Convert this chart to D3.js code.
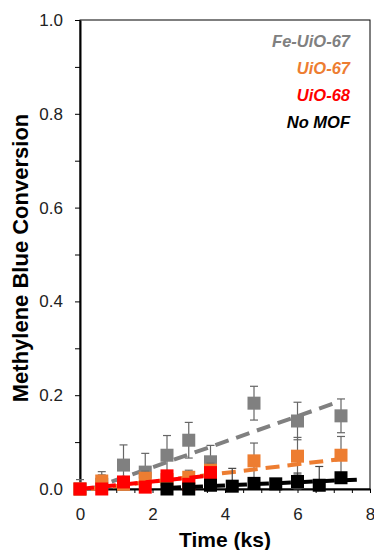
<!DOCTYPE html>
<html>
<head>
<meta charset="utf-8">
<script src="https://cdn.jsdelivr.net/npm/d3@7"></script>
<style>
  body { margin: 0; background: #fff; }
  svg text { font-family: Arial, "Liberation Sans", sans-serif; }
</style>
</head>
<body>
<div id="chart"></div>
<script>
// time points (ks) and conversions
const grayTime = [0, 0.6, 1.2, 1.8, 2.4, 3.0, 3.6, 4.8, 6.0, 7.2];
const grayVals = [0.0, 0.01, 0.051, 0.036, 0.072, 0.104, 0.058, 0.183, 0.145, 0.156];
const grayErr  = [0.02, 0.02, 0.043, 0.04, 0.042, 0.038, 0.035, 0.036, 0.04, 0.036];

const orangeTime = [0, 0.6, 1.2, 1.8, 2.4, 3.0, 3.6, 4.8, 6.0, 7.2];
const orangeVals = [0.0, 0.017, 0.01, 0.023, 0.02, 0.025, 0.04, 0.06, 0.07, 0.072];
const orangeErr  = [0.005, 0.02, 0.01, 0.015, 0.01, 0.015, 0.015, 0.038, 0.04, 0.04];

const redTime = [0, 0.6, 1.2, 1.8, 2.4, 3.0, 3.6];
const redVals = [0.0, 0.0, 0.015, 0.004, 0.028, 0.01, 0.035];
const redErr  = [0.005, 0.005, 0.008, 0.005, 0.01, 0.008, 0.01];

const blackTime = [2.4, 3.0, 3.6, 4.2, 4.8, 5.4, 6.0, 6.6, 7.2];
const blackVals = [0.0, 0.0, 0.008, 0.006, 0.012, 0.011, 0.016, 0.008, 0.024];
const blackErr  = [0.005, 0.005, 0.008, 0.038, 0.01, 0.01, 0.018, 0.04, 0.01];

// linear fits: [slope, intercept, tStart, tEnd]
const grayFit   = [0.0272, -0.008, 0.3, 7.1];
const orangeFit = [0.0093, -0.003, 0.3, 7.1];
const redFit    = [0.008, 0.0, 0.0, 3.6];
const blackFit  = [0.0034, -0.006, 2.4, 7.8];

const legendLabels = ["Fe-UiO-67", "UiO-67", "UiO-68", "No MOF"];
const yTickLabels = [0, 0.2, 0.4, 0.6, 0.8, 1.0];
const xTickLabels = [0, 2, 4, 6, 8];

const width = 374, height = 550;
const margin = { top: 20, right: 4, bottom: 61, left: 80 };
const w = width - margin.left - margin.right;
const h = height - margin.top - margin.bottom;

const svg = d3.select("#chart").append("svg")
    .attr("width", width)
    .attr("height", height);

const g = svg.append("g")
    .attr("transform", `translate(${margin.left},${margin.top})`);

const x = d3.scaleLinear().domain([0, 8]).range([0, w]);
const y = d3.scaleLinear().domain([0, 1]).range([h, 0]);

// frame
g.append("rect")
    .attr("width", w).attr("height", h)
    .attr("fill", "none").attr("stroke", "#000").attr("stroke-width", 1);

// y axis
const yAxis = d3.axisLeft(y)
    .tickValues(d3.range(0, 1.0001, 0.1))
    .tickSize(5)
    .tickSizeOuter(0)
    .tickFormat(d => yTickLabels.some(v => Math.abs(v - d) < 1e-6) ? d3.format(".1f")(d) : "");
const ya = g.append("g").call(yAxis);
ya.select(".domain").attr("stroke-width", 2);
ya.selectAll("text").attr("font-size", 17).attr("fill", "#222").attr("x", -17);

// x axis
const xAxis = d3.axisBottom(x)
    .tickValues(d3.range(0, 8.0001, 0.5))
    .tickSize(4)
    .tickSizeOuter(0)
    .tickFormat(d => xTickLabels.includes(d) ? d : "");
const xa = g.append("g").attr("transform", `translate(0,${h})`).call(xAxis);
xa.select(".domain").attr("stroke-width", 2);
xa.selectAll("text").attr("font-size", 17).attr("fill", "#222").attr("y", 19);

// axis titles
svg.append("text")
    .attr("transform", "translate(28,258) rotate(-90)")
    .attr("text-anchor", "middle")
    .attr("font-size", 22).attr("font-weight", "bold")
    .text("Methylene Blue Conversion");

svg.append("text")
    .attr("x", 225)
    .attr("y", 547)
    .attr("text-anchor", "middle")
    .attr("font-size", 21).attr("font-weight", "bold")
    .text("Time (ks)");

const series = [
    { t: grayTime, v: grayVals, e: grayErr, fit: grayFit, color: "#808080" },
    { t: orangeTime, v: orangeVals, e: orangeErr, fit: orangeFit, color: "#ED7D31" },
    { t: redTime, v: redVals, e: redErr, fit: redFit, color: "#FF0000" },
    { t: blackTime, v: blackVals, e: blackErr, fit: blackFit, color: "#000000" }
];

const plot = g.append("g");
const line = d3.line().x(d => x(d[0])).y(d => y(d[1]));
const sq = 13;

series.forEach(s => {
    const pts = s.t.map((t, i) => ({ t: t, v: s.v[i], e: s.e[i] }));
    const grp = plot.append("g");

    // error bars
    const eb = grp.selectAll("g.err").data(pts).join("g").attr("class", "err")
        .attr("stroke", s.color === "#000000" ? "#444" : "#666").attr("stroke-width", 1.2);
    eb.append("line")
        .attr("x1", d => x(d.t)).attr("x2", d => x(d.t))
        .attr("y1", d => y(Math.max(0, d.v - d.e))).attr("y2", d => y(d.v + d.e));
    eb.append("line")
        .attr("x1", d => x(d.t) - 4).attr("x2", d => x(d.t) + 4)
        .attr("y1", d => y(d.v + d.e)).attr("y2", d => y(d.v + d.e));
    eb.append("line")
        .attr("x1", d => x(d.t) - 4).attr("x2", d => x(d.t) + 4)
        .attr("y1", d => y(Math.max(0, d.v - d.e))).attr("y2", d => y(Math.max(0, d.v - d.e)));

    // fit line
    const [m, b, t0, t1] = s.fit;
    grp.append("path")
        .datum([[t0, m * t0 + b], [t1, m * t1 + b]])
        .attr("d", line)
        .attr("fill", "none")
        .attr("stroke", s.color)
        .attr("stroke-width", 4)
        .attr("stroke-dasharray", "14,8");

    // markers
    grp.selectAll("rect").data(pts).join("rect")
        .attr("x", d => x(d.t) - sq / 2)
        .attr("y", d => y(d.v) - sq / 2)
        .attr("width", sq).attr("height", sq)
        .attr("fill", s.color);
});

// legend
const legend = svg.append("g");
legend.selectAll("text").data(legendLabels).join("text")
    .attr("x", 350)
    .attr("y", (d, i) => 47 + i * 27)
    .attr("text-anchor", "end")
    .attr("font-size", 16.5)
    .attr("font-weight", "bold")
    .attr("font-style", "italic")
    .attr("fill", (d, i) => series[i].color)
    .text(d => d);
</script>
</body>
</html>
